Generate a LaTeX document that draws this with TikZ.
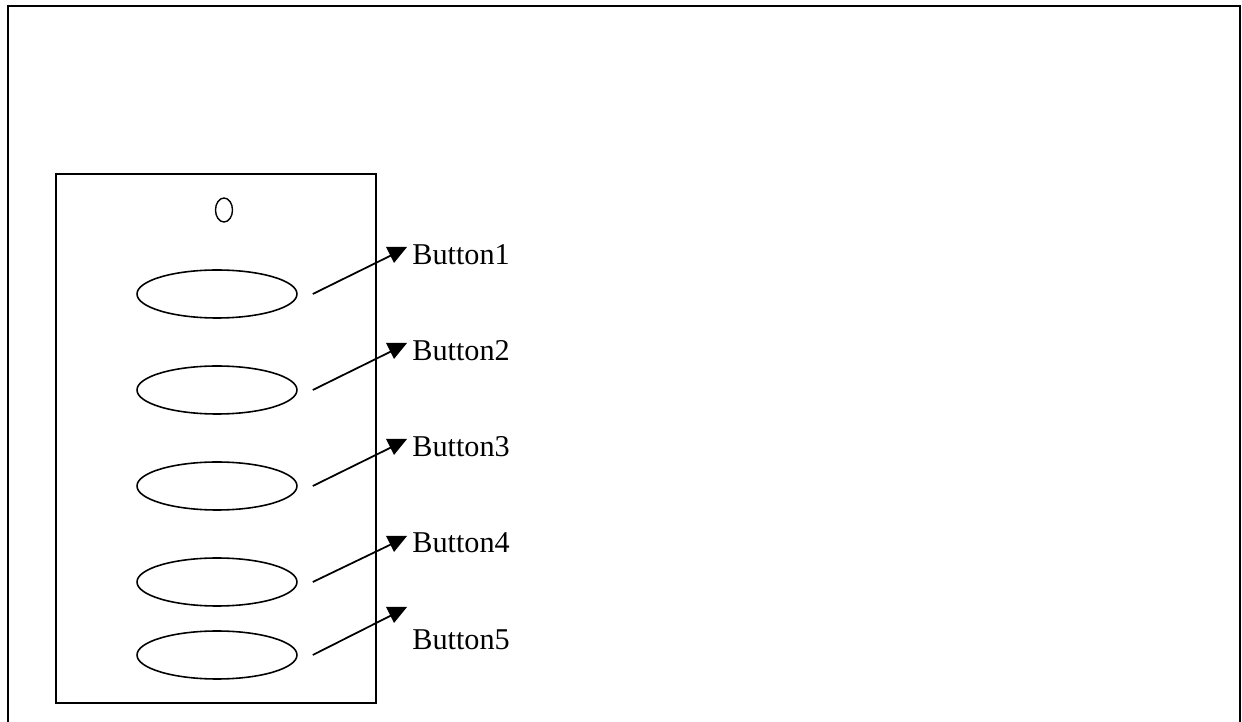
\documentclass[tikz,border=0pt]{standalone}
\usepackage{fontspec}
\setmainfont{Liberation Serif}
\usetikzlibrary{shapes.geometric}

\begin{document}
\begin{tikzpicture}[x=0.02cm, y=-0.02cm,
	key/.style={draw, line width=0.9pt, ellipse, minimum width=3.2cm, minimum height=0.96cm, inner sep=0pt},
	lbl/.style={anchor=west, inner sep=0pt, font=\fontsize{17.2}{20}\selectfont},
	lead/.style={line width=1pt}]
	\useasboundingbox (0,0) rectangle (1242,722);

	\draw[line width=1.1pt] (8,6) rectangle (1240,730);
	\draw[line width=0.9pt] (56,174) rectangle (376,703);
	\node[draw, line width=0.8pt, ellipse, minimum width=0.34cm, minimum height=0.48cm, inner sep=0pt] (led) at (224,210) {};

	\node[key] (b1) at (217,294) {};
	\node[key] (b2) at (217,390) {};
	\node[key] (b3) at (217,486) {};
	\node[key] (b4) at (217,582) {};
	\node[key] (b5) at (217,655) {};

	\coordinate (t1) at (396,253);
	\coordinate (t2) at (396,349);
	\coordinate (t3) at (396,445);
	\coordinate (t4) at (396,542);
	\coordinate (t5) at (396,613);

	\fill (t1) ++(-10,-6) -- ++(21,0) -- ++(-13,16) -- cycle;
	\fill (t2) ++(-10,-6) -- ++(21,0) -- ++(-13,16) -- cycle;
	\fill (t3) ++(-10,-6) -- ++(21,0) -- ++(-13,16) -- cycle;
	\fill (t4) ++(-10,-6) -- ++(21,0) -- ++(-13,16) -- cycle;
	\fill (t5) ++(-10,-6) -- ++(21,0) -- ++(-13,16) -- cycle;

	\draw[lead] ([xshift=0.3cm]b1.east) -- (t1);
	\draw[lead] ([xshift=0.3cm]b2.east) -- (t2);
	\draw[lead] ([xshift=0.3cm]b3.east) -- (t3);
	\draw[lead] ([xshift=0.3cm]b4.east) -- (t4);
	\draw[lead] ([xshift=0.3cm]b5.east) -- (t5);

	\node[lbl] (l1) at (412,255) {Button1};
	\node[lbl] (l2) at (412,351) {Button2};
	\node[lbl] (l3) at (412,447) {Button3};
	\node[lbl] (l4) at (412,543) {Button4};
	\node[lbl] (l5) at (412,640) {Button5};
\end{tikzpicture}
\end{document}
